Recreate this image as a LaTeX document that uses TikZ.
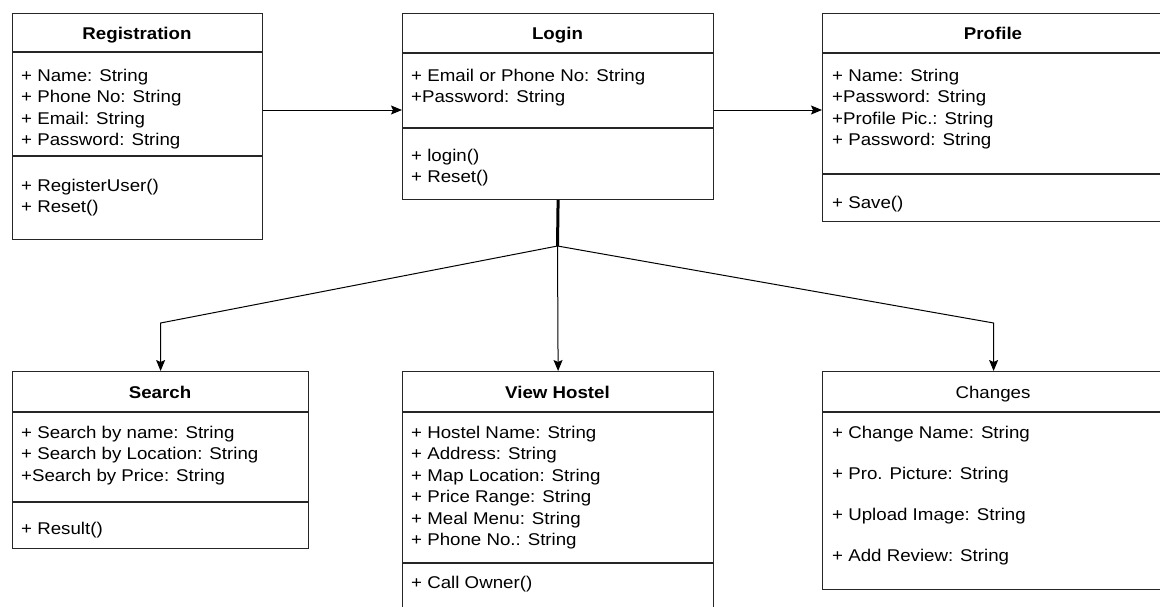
\documentclass[tikz,border=0pt]{standalone}
\usepackage{fontspec}
\setmainfont{Liberation Sans}[FakeStretch=1.1]
\usetikzlibrary{arrows.meta, positioning}

\begin{document}
\begin{tikzpicture}[
    x=1pt, y=-1pt,
    classbox/.style={rectangle, draw=black!85, line width=1.2pt, inner sep=0pt, anchor=north west},
    title/.style={anchor=base, font=\fontsize{17}{20}\selectfont\bfseries, inner sep=0pt},
    member/.style={anchor=base west, font=\fontsize{17}{20}\selectfont, inner sep=0pt},
    sep/.style={draw=black!85, line width=1.2pt},
    arrow/.style={-{Stealth[length=11pt, width=9pt, inset=2pt]}, line width=1pt}
]
    \useasboundingbox (0,0) rectangle (1160,606);
    \clip (0,0) rectangle (1160,606);
    \fill[white] (0,0) rectangle (1160,606);

    % Registration
    \node[classbox, minimum width=250pt, minimum height=226pt] (reg) at (12,13) {};
    \draw[sep] (12,52) -- (262,52);
    \draw[sep] (12,156) -- (262,156);
    \node[title] (reg-t) at (137,39) {Registration};
    \node[member] (reg-a1) at (21,81) {+ Name: String};
    \node[member] (reg-a2) at (21,102.5) {+ Phone No: String};
    \node[member] (reg-a3) at (21,124) {+ Email: String};
    \node[member] (reg-a4) at (21,145.5) {+ Password: String};
    \node[member] (reg-m1) at (21,191) {+ RegisterUser()};
    \node[member] (reg-m2) at (21,212.5) {+ Reset()};

    % Login
    \node[classbox, minimum width=311pt, minimum height=186pt] (login) at (402,13) {};
    \draw[sep] (402,53) -- (713,53);
    \draw[sep] (402,128) -- (713,128);
    \node[title] (login-t) at (557.5,39) {Login};
    \node[member] (login-a1) at (411,81) {+ Email or Phone No: String};
    \node[member] (login-a2) at (411,102.5) {+Password: String};
    \node[member] (login-m1) at (411,161) {+ login()};
    \node[member] (login-m2) at (411,182.5) {+ Reset()};

    % Profile
    \node[classbox, minimum width=342pt, minimum height=208pt] (profile) at (822,13) {};
    \draw[sep] (822,53) -- (1164,53);
    \draw[sep] (822,174) -- (1164,174);
    \node[title] (profile-t) at (993,39) {Profile};
    \node[member] (profile-a1) at (832,81) {+ Name: String};
    \node[member] (profile-a2) at (832,102.5) {+Password: String};
    \node[member] (profile-a3) at (832,124) {+Profile Pic.: String};
    \node[member] (profile-a4) at (832,145.5) {+ Password: String};
    \node[member] (profile-m1) at (832,208) {+ Save()};

    % Search
    \node[classbox, minimum width=296pt, minimum height=177pt] (search) at (12,371) {};
    \draw[sep] (12,412) -- (308,412);
    \draw[sep] (12,502) -- (308,502);
    \node[title] (search-t) at (160,398) {Search};
    \node[member] (search-a1) at (21,438) {+ Search by name: String};
    \node[member] (search-a2) at (21,459.5) {+ Search by Location: String};
    \node[member] (search-a3) at (21,481) {+Search by Price: String};
    \node[member] (search-m1) at (21,534) {+ Result()};

    % View Hostel
    \node[classbox, minimum width=311pt, minimum height=250pt] (view) at (402,371) {};
    \draw[sep] (402,412) -- (713,412);
    \draw[sep] (402,563) -- (713,563);
    \node[title] (view-t) at (557.5,398) {View Hostel};
    \node[member] (view-a1) at (411,438) {+ Hostel Name: String};
    \node[member] (view-a2) at (411,459.5) {+ Address: String};
    \node[member] (view-a3) at (411,481) {+ Map Location: String};
    \node[member] (view-a4) at (411,502.5) {+ Price Range: String};
    \node[member] (view-a5) at (411,524) {+ Meal Menu: String};
    \node[member] (view-a6) at (411,545.5) {+ Phone No.: String};
    \node[member] (view-m1) at (411,588) {+ Call Owner()};

    % Changes
    \node[classbox, minimum width=342pt, minimum height=218pt] (changes) at (822,371) {};
    \draw[sep] (822,412) -- (1164,412);
    \node[title, font=\fontsize{17}{20}\selectfont] (changes-t) at (993,398) {Changes};
    \node[member] (changes-a1) at (832,438) {+ Change Name: String};
    \node[member] (changes-a2) at (832,479) {+ Pro. Picture: String};
    \node[member] (changes-a3) at (832,520) {+ Upload Image: String};
    \node[member] (changes-a4) at (832,561) {+ Add Review: String};

    % Arrows between the top classes
    \coordinate (row) at (0,110);
    \draw[arrow] (reg.east |- row) -- (login.west |- row);
    \draw[arrow] (login.east |- row) -- (profile.west |- row);

    % Fork below Login
    \coordinate (fork) at (557.5,246);
    \coordinate (bend) at (0,323);
    \draw[line width=3pt] (login.south) -- (fork);
    \draw[arrow] (fork) -- (search.north |- bend) -- (search.north);
    \draw[arrow] (fork) -- (view.north);
    \draw[arrow] (fork) -- (changes.north |- bend) -- (changes.north);
\end{tikzpicture}
\end{document}
